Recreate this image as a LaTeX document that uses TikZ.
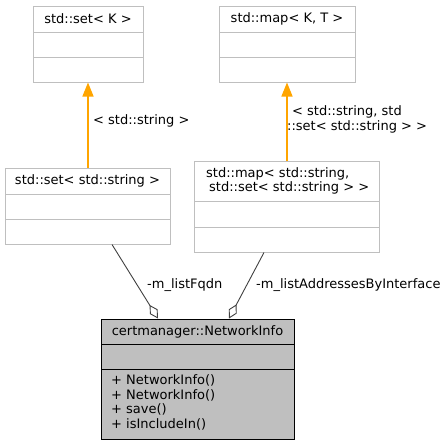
\documentclass[tikz,border=0pt]{standalone}
\usepackage{fontspec}
\setmainfont{DejaVu Sans}
\usetikzlibrary{arrows.meta,positioning}

\definecolor{boxgray}{HTML}{BFBFBF}
\definecolor{edgegray}{HTML}{404040}
\definecolor{inhorange}{HTML}{FFA500}

\begin{document}
\begin{tikzpicture}[
    x=1pt, y=-1pt,
    font=\fontsize{13}{14.5}\selectfont,
    cls/.style={draw=boxgray, line width=1pt, fill=white, inner sep=0pt},
    main/.style={draw=black, line width=1pt, fill=boxgray, inner sep=0pt},
    inh/.style={draw=inhorange, line width=1.4pt, -{Triangle[length=14pt, width=11pt, fill=inhorange]}},
    aggr/.style={draw=edgegray, line width=0.9pt, -{Diamond[open, length=16pt, width=9pt, fill=white]}},
    lbl/.style={inner sep=0pt, align=left}
]
    % --- 0. 畫布大小 ---
    \useasboundingbox (0,0) rectangle (448,445);

    % --- 1. 定義一個 macro 來畫類別框 ---
    \newcommand{\drawClassBox}[8]{
        % 參數 #1: 名稱, #2: 樣式, #3/#4: 左上, #5/#6: 右下
        % 參數 #7/#8: 兩條分隔線的 y 座標
        \node[#2, minimum width={#5-#3}, minimum height={#6-#4}] (#1) at ({(#3+#5)/2}, {(#4+#6)/2}) {};
        \draw[#2] (#3, #7) -- (#5, #7);
        \draw[#2] (#3, #8) -- (#5, #8);
    }

    % --- 2. 上面兩個模板類別 ---
    \drawClassBox{setK}{cls}{33}{6}{143}{82}{32}{57}
    \node (setKtitle) at (88, 19) {std::set< K >};

    \drawClassBox{mapKT}{cls}{219}{6}{355}{82}{32}{57}
    \node (mapKTtitle) at (287, 19) {std::map< K, T >};

    % --- 3. 中間兩個實例化類別 ---
    \drawClassBox{setStr}{cls}{5}{168}{170}{244}{194}{219}
    \node (setStrtitle) at (87.5, 181) {std::set< std::string >};

    \drawClassBox{mapStr}{cls}{194}{161}{379}{252}{201}{227}
    \node[lbl, anchor=west] (mapStrtitle) at (206, 181) {std::map< std::string,\\\hspace*{3pt}std::set< std::string > >};

    % --- 4. 下面的 NetworkInfo ---
    \drawClassBox{netInfo}{main}{101}{319}{294}{439}{344}{369}
    \node (netInfotitle) at (197.5, 331.5) {certmanager::NetworkInfo};
    \node[lbl, anchor=west] (netInfoops) at (111, 402.5) {+ NetworkInfo()\\+ NetworkInfo()\\+ save()\\+ isIncludeIn()};

    % --- 5. 繼承箭頭 (橘色) ---
    \draw[inh] (setK.south |- setStr.north) -- (setK.south);
    \node[lbl, anchor=west] (lbl_setStr) at (93, 121) {< std::string >};

    \draw[inh] (mapKT.south |- mapStr.north) -- (mapKT.south);
    \node[lbl, anchor=west] (lbl_mapStr) at (287, 119.5) {\hspace*{5pt}< std::string, std\\::set< std::string > >};

    % --- 6. 聚合關係 (空心菱形) ---
    \draw[aggr] ([xshift=24.5pt]setStr.south) -- ([xshift=-39.5pt]netInfo.north);
    \node[lbl, anchor=west] (lbl_fqdn) at (147, 285) {-m\_listFqdn};

    \draw[aggr] ([xshift=-22.5pt]mapStr.south) -- ([xshift=31.5pt]netInfo.north);
    \node[lbl, anchor=west] (lbl_addr) at (256, 285) {-m\_listAddressesByInterface};

\end{tikzpicture}
\end{document}
